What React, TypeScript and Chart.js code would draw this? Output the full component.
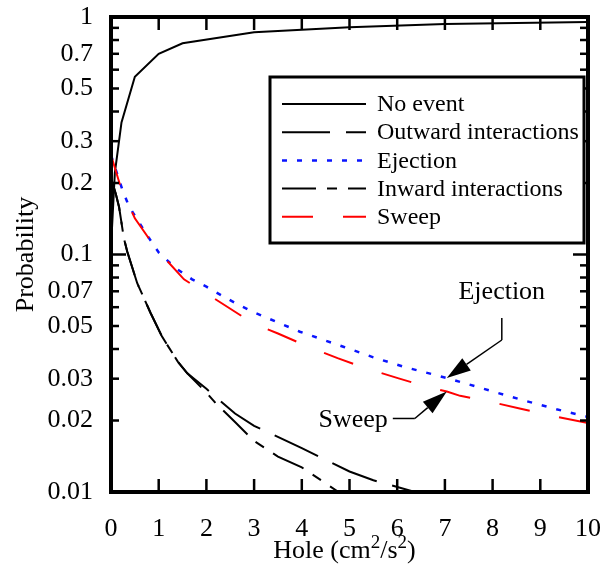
import React, { useEffect, useRef } from 'react';
import { Chart, registerables } from 'chart.js';

Chart.register(...registerables);

// Hole size (cm²/s²) vs. probability of each event class
const noEventX = [0, 0.08, 0.22, 0.5, 1, 1.5, 3, 5, 7, 10];
const noEventY = [0.107, 0.22, 0.36, 0.56, 0.7, 0.775, 0.862, 0.906, 0.934, 0.953];

const outwardX = [0, 0.1, 0.17, 0.27, 0.34, 0.55, 0.83, 1.07, 1.4, 1.6, 2.0, 2.2, 2.6, 3.0, 4.0, 5.0, 5.5, 6.45];
const outwardY = [0.21, 0.18, 0.158, 0.117, 0.103, 0.0757, 0.0567, 0.0451, 0.0354, 0.0316, 0.0272, 0.0251, 0.0214, 0.019, 0.0153, 0.0122, 0.0112, 0.0099];

const ejectionX = [0, 0.24, 0.38, 0.8, 1.0, 1.36, 1.7, 2.0, 2.33, 2.68, 3.0, 3.96, 4.87, 5.5, 6.13, 7.04, 8.09, 8.72, 9.34, 10];
const ejectionY = [0.262, 0.187, 0.159, 0.117, 0.102, 0.0875, 0.0786, 0.0732, 0.067, 0.0613, 0.057, 0.0473, 0.0409, 0.0369, 0.0337, 0.0302, 0.0262, 0.0241, 0.0223, 0.0207];

const inwardX = [0, 0.1, 0.17, 0.27, 0.34, 0.55, 0.83, 1.07, 1.4, 1.6, 2.0, 2.2, 2.6, 3.0, 3.5, 4.0, 4.77];
const inwardY = [0.21, 0.18, 0.158, 0.117, 0.103, 0.0757, 0.0567, 0.0451, 0.0354, 0.0316, 0.0262, 0.0236, 0.0197, 0.0164, 0.0141, 0.0127, 0.01];

const sweepX = [0, 0.2, 0.5, 0.94, 1.53, 2.19, 3.0, 3.5, 4.1, 4.75, 5.38, 6.03, 6.65, 7.04, 7.32, 7.95, 8.59, 9.22, 10];
const sweepY = [0.262, 0.193, 0.142, 0.106, 0.0786, 0.0648, 0.051, 0.0465, 0.0412, 0.0366, 0.033, 0.0301, 0.0276, 0.0265, 0.0254, 0.024, 0.0224, 0.021, 0.0195];

const seriesNames = ['No event', 'Outward interactions', 'Ejection', 'Inward interactions', 'Sweep'];

const xTicks = [0, 1, 2, 3, 4, 5, 6, 7, 8, 9, 10];
const yTicks = [
  0.01, 0.02, 0.03, 0.04, 0.05, 0.06, 0.07, 0.08, 0.09,
  0.1, 0.2, 0.3, 0.4, 0.5, 0.6, 0.7, 0.8, 0.9, 1,
];
const yLabeled = [0.01, 0.02, 0.03, 0.05, 0.07, 0.1, 0.2, 0.3, 0.5, 0.7, 1];
const yDecades = [0.01, 0.1, 1];

// x-axis title pieces: [text, isSuperscript]
const xTitleParts: [string, boolean][] = [
  ['Hole (cm', false],
  ['2', true],
  ['/s', false],
  ['2', true],
  [')', false],
];

// x position where the callout arrows meet their curves
const calloutX = 7.04;

const FONT = "'Liberation Serif', 'Times New Roman', Times, serif";

type Style = { color: string; width: number; dash: number[] };
const styles: Style[] = [
  { color: '#000000', width: 2, dash: [] },
  { color: '#000000', width: 2, dash: [48, 16] },
  { color: '#0a14ff', width: 2.5, dash: [5, 10] },
  { color: '#000000', width: 2, dash: [34, 11, 10, 11] },
  { color: '#ff0000', width: 2, dash: [31, 30] },
];

const seriesX = [noEventX, outwardX, ejectionX, inwardX, sweepX];
const seriesY = [noEventY, outwardY, ejectionY, inwardY, sweepY];

function interpLog(xs: number[], ys: number[], xv: number): number {
  for (let i = 0; i < xs.length - 1; i++) {
    if (xv >= xs[i] && xv <= xs[i + 1]) {
      const t = (xv - xs[i]) / (xs[i + 1] - xs[i]);
      const a = Math.log10(ys[i]);
      const b = Math.log10(ys[i + 1]);
      return Math.pow(10, a + t * (b - a));
    }
  }
  return ys[ys.length - 1];
}

function line(ctx: CanvasRenderingContext2D, x1: number, y1: number, x2: number, y2: number) {
  ctx.beginPath();
  ctx.moveTo(x1, y1);
  ctx.lineTo(x2, y2);
  ctx.stroke();
}

function arrow(
  ctx: CanvasRenderingContext2D,
  fx: number, fy: number, tx: number, ty: number,
  len: number, half: number,
) {
  const dx = tx - fx;
  const dy = ty - fy;
  const d = Math.hypot(dx, dy);
  const ux = dx / d;
  const uy = dy / d;
  const bx = tx - ux * len;
  const by = ty - uy * len;
  ctx.beginPath();
  ctx.moveTo(fx, fy);
  ctx.lineTo(bx, by);
  ctx.stroke();
  ctx.beginPath();
  ctx.moveTo(tx, ty);
  ctx.lineTo(bx - uy * half, by + ux * half);
  ctx.lineTo(bx + uy * half, by - ux * half);
  ctx.closePath();
  ctx.fill();
}

const framePlugin = {
  id: 'frameAndNotes',
  afterDatasetsDraw(chart: any) {
    const ctx: CanvasRenderingContext2D = chart.ctx;
    const { left, right, top, bottom } = chart.chartArea;
    const xs = chart.scales.x;
    const ys = chart.scales.y;
    ctx.save();
    ctx.strokeStyle = '#000';
    ctx.fillStyle = '#000';
    ctx.setLineDash([]);

    // inward ticks on all four sides
    ctx.lineWidth = 2.5;
    for (const v of xTicks) {
      const px = xs.getPixelForValue(v);
      line(ctx, px, bottom, px, bottom - 13);
      line(ctx, px, top, px, top + 13);
    }
    for (const v of yTicks) {
      const py = ys.getPixelForValue(v);
      const len = yDecades.includes(v) ? 15 : 8;
      line(ctx, left, py, left + len, py);
      line(ctx, right, py, right - len, py);
    }

    // plot frame
    ctx.lineWidth = 4;
    ctx.strokeRect(left, top, right - left, bottom - top);

    // legend box
    const lx = right - 318;
    const ly = top + 60;
    const lw = 314;
    const lh = 166;
    ctx.fillStyle = '#fff';
    ctx.fillRect(lx, ly, lw, lh);
    ctx.lineWidth = 3;
    ctx.strokeRect(lx, ly, lw, lh);
    ctx.font = `24px ${FONT}`;
    ctx.textBaseline = 'middle';
    ctx.textAlign = 'left';
    seriesNames.forEach((name, i) => {
      const cy = ly + 27 + i * 28.2;
      const st = styles[i];
      ctx.strokeStyle = st.color;
      ctx.lineWidth = st.width;
      ctx.setLineDash(st.dash);
      line(ctx, lx + 12, cy, lx + 96, cy);
      ctx.setLineDash([]);
      ctx.fillStyle = '#000';
      ctx.fillText(name, lx + 107, cy + 1);
    });

    // callouts
    ctx.strokeStyle = '#000';
    ctx.fillStyle = '#000';
    ctx.lineWidth = 1.5;
    ctx.font = `26px ${FONT}`;
    ctx.textBaseline = 'alphabetic';

    const ex = xs.getPixelForValue(calloutX);
    const ey = ys.getPixelForValue(interpLog(ejectionX, ejectionY, calloutX));
    ctx.textAlign = 'center';
    ctx.fillText('Ejection', ex + 55, ey - 79);
    line(ctx, ex + 55, ey - 60, ex + 55, ey - 38);
    arrow(ctx, ex + 55, ey - 38, ex, ey, 24, 7.5);

    const sx = xs.getPixelForValue(calloutX);
    const sy = ys.getPixelForValue(interpLog(sweepX, sweepY, calloutX));
    ctx.textAlign = 'right';
    ctx.fillText('Sweep', sx - 59, sy + 36);
    line(ctx, sx - 54, sy + 27, sx - 32, sy + 27);
    arrow(ctx, sx - 32, sy + 27, sx, sy, 25, 7.5);

    // x-axis title with raised exponents
    const mainFont = `26px ${FONT}`;
    const supFont = `19px ${FONT}`;
    let total = 0;
    for (const [t, sup] of xTitleParts) {
      ctx.font = sup ? supFont : mainFont;
      total += ctx.measureText(t).width;
    }
    let cx = (left + right) / 2 - 5 - total / 2;
    const base = bottom + 66;
    ctx.textAlign = 'left';
    for (const [t, sup] of xTitleParts) {
      ctx.font = sup ? supFont : mainFont;
      ctx.fillText(t, cx, sup ? base - 10 : base);
      cx += ctx.measureText(t).width;
    }

    ctx.restore();
  },
};

export default function App() {
  const canvasRef = useRef<HTMLCanvasElement | null>(null);

  useEffect(() => {
    document.body.style.margin = '0';
    const canvas = canvasRef.current;
    if (!canvas) return;

    const datasets = seriesNames.map((name, i) => ({
      label: name,
      data: seriesX[i].map((xv, j) => ({ x: xv, y: seriesY[i][j] })),
      borderColor: styles[i].color,
      borderWidth: styles[i].width,
      borderDash: styles[i].dash,
      pointRadius: 0,
      tension: 0,
      fill: false,
      order: [1, 2, 4, 3, 0][i],
    }));

    const chart = new Chart(canvas, {
      type: 'line',
      data: { datasets },
      options: {
        animation: false,
        responsive: false,
        devicePixelRatio: 1,
        layout: { padding: { left: 0, top: 17, right: 15, bottom: 0 } },
        plugins: {
          legend: { display: false },
          tooltip: { enabled: false },
        },
        scales: {
          x: {
            type: 'linear',
            min: 0,
            max: 10,
            grid: { display: false },
            border: { display: false },
            afterBuildTicks: (scale: any) => {
              scale.ticks = xTicks.map((v) => ({ value: v }));
            },
            afterFit: (scale: any) => {
              scale.height = 82;
              scale.paddingLeft = 0;
              scale.paddingRight = 0;
            },
            ticks: {
              autoSkip: false,
              maxRotation: 0,
              padding: 14,
              color: '#000',
              font: { family: FONT, size: 26 },
              callback: (v: any) => String(v),
            },
          },
          y: {
            type: 'logarithmic',
            min: 0.01,
            max: 1,
            grid: { display: false },
            border: { display: false },
            afterBuildTicks: (scale: any) => {
              scale.ticks = yTicks.map((v) => ({ value: v }));
            },
            afterFit: (scale: any) => {
              scale.width = 111;
              scale.paddingTop = 0;
              scale.paddingBottom = 0;
            },
            ticks: {
              autoSkip: false,
              padding: 10,
              color: '#000',
              font: { family: FONT, size: 26 },
              callback: (v: any) => (yLabeled.includes(Number(v)) ? String(v) : ''),
            },
            title: {
              display: true,
              text: 'Probability',
              color: '#000',
              font: { family: FONT, size: 26 },
              padding: { top: 11, bottom: 0 },
            },
          },
        },
      },
      plugins: [framePlugin],
    });

    return () => chart.destroy();
  }, []);

  return (
    <div style={{ width: 603, height: 574, background: '#fff' }}>
      <canvas ref={canvasRef} width={603} height={574} style={{ display: 'block' }} />
    </div>
  );
}
